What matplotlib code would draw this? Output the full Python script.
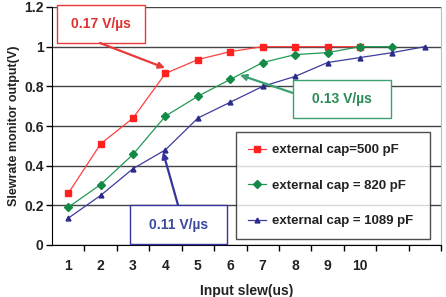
import numpy as np
from matplotlib import pyplot as plt
from matplotlib.patches import Rectangle

plt.rcParams['font.family'] = ['Liberation Sans', 'DejaVu Sans']

slew = [1, 2, 3, 4, 5, 6, 7, 8, 9, 10, 11, 12]
tick_labels = ['1', '2', '3', '4', '5', '6', '7', '8', '9', '10']
cap500 = [0.26, 0.51, 0.64, 0.865, 0.935, 0.975, 1.0, 1.0, 1.0, 1.0]
cap820 = [0.19, 0.305, 0.457, 0.65, 0.75, 0.835, 0.92, 0.96, 0.97, 1.0, 1.0]
cap1089 = [0.135, 0.25, 0.385, 0.48, 0.64, 0.72, 0.80, 0.85, 0.92, 0.945, 0.97, 1.0]

W, H = 446, 297
L, R, T, B = 52, 441, 7, 245

fig = plt.figure(figsize=(W / 100, H / 100), dpi=100)
ax = fig.add_axes([L / W, 1 - B / H, (R - L) / W, (B - T) / H])

def fx(x):
    return (x - L) / (R - L)

def fy(y):
    return (B - y) / (B - T)

ax.plot(slew[:len(cap500)], cap500, color='#ff4040', lw=0.9, marker='s', ms=5,
        mec='#ff2020', mfc='#ff2020', label='external cap=500 pF', zorder=4)
ax.plot(slew[:len(cap820)], cap820, color='#1f9a55', lw=0.9, marker='D', ms=4,
        mec='#138a45', mfc='#138a45', label='external cap = 820 pF', zorder=4)
ax.plot(slew[:len(cap1089)], cap1089, color='#3c3c9c', lw=0.9, marker='^', ms=3.5,
        mec='#2a2a8a', mfc='#2a2a8a', label='external cap = 1089 pF', zorder=4)

ax.set_xlim(0.5, 12.5)
ax.set_ylim(0, 1.2)
ax.set_yticks(np.arange(0, 1.21, 0.2))
ax.set_yticklabels(['0', '0.2', '0.4', '0.6', '0.8', '1', '1.2'])
ax.set_xticks(slew[:len(tick_labels)])
ax.set_xticklabels(tick_labels)
ax.set_xticks(np.arange(1.5, 12.6, 1), minor=True)
ax.tick_params(axis='x', which='major', length=0, pad=10)
ax.tick_params(axis='x', which='minor', length=4, width=1, direction='out')
ax.tick_params(axis='y', length=4, width=1, direction='out', pad=2)
for lab in ax.get_xticklabels() + ax.get_yticklabels():
    lab.set_fontweight('bold')
    lab.set_fontsize(10)
    lab.set_color('#222222')

ax.grid(axis='y', color='#444444', lw=1)
ax.set_axisbelow(True)
ax.spines['left'].set_color('black')
ax.spines['bottom'].set_color('black')
ax.spines['right'].set_color('#bbbbbb')
ax.spines['top'].set_visible(False)

ax.set_xlabel('Input slew(us)', fontsize=10, fontweight='bold', color='#222222', labelpad=8)
ax.set_ylabel('Slewrate monitor output(V)', fontsize=9, fontweight='bold', color='#222222', labelpad=3)

# annotation boxes
boxes = [
    (57, 5, 145, 43, '#e83a3a', '#e03030', '0.17 V/\u00b5s', (100, 43), (165, 68)),
    (293, 80, 391, 118, '#3aa070', '#2a8a55', '0.13 V/\u00b5s', (293, 93), (240, 75)),
    (130, 205, 227, 244, '#34349a', '#3a4a9a', '0.11 V/\u00b5s', (178, 205), (163, 152)),
]
for x0, y0, x1, y1, ec, tc, txt, start, end in boxes:
    ax.add_patch(Rectangle((fx(x0), fy(y1)), fx(x1) - fx(x0), fy(y0) - fy(y1),
                           transform=ax.transAxes, fc='white', ec=ec, lw=1,
                           clip_on=False, zorder=5))
    ax.text((fx(x0) + fx(x1)) / 2, (fy(y0) + fy(y1)) / 2, txt, transform=ax.transAxes,
            ha='center', va='center', fontsize=10, fontweight='bold', color=tc, zorder=6)
    ax.annotate('', xy=(fx(end[0]), fy(end[1])), xycoords='axes fraction',
                xytext=(fx(start[0]), fy(start[1])), textcoords='axes fraction',
                arrowprops=dict(arrowstyle='-|>', color=ec, lw=1.6, mutation_scale=9,
                                shrinkA=0, shrinkB=0), zorder=6)

leg = ax.legend(loc='lower left', bbox_to_anchor=(fx(236), fy(239), fx(430) - fx(236), fy(130) - fy(239)),
                mode='expand', frameon=True, fancybox=False, edgecolor='#222222',
                prop={'weight': 'bold', 'size': 9.5}, labelspacing=1.75,
                handlelength=1.4, handletextpad=0.4, borderpad=0.9, borderaxespad=0)
leg.get_frame().set_linewidth(1)
leg.set_zorder(7)
for t in leg.get_texts():
    t.set_color('#222222')

fig.savefig('out.png', dpi=100, facecolor='white')
